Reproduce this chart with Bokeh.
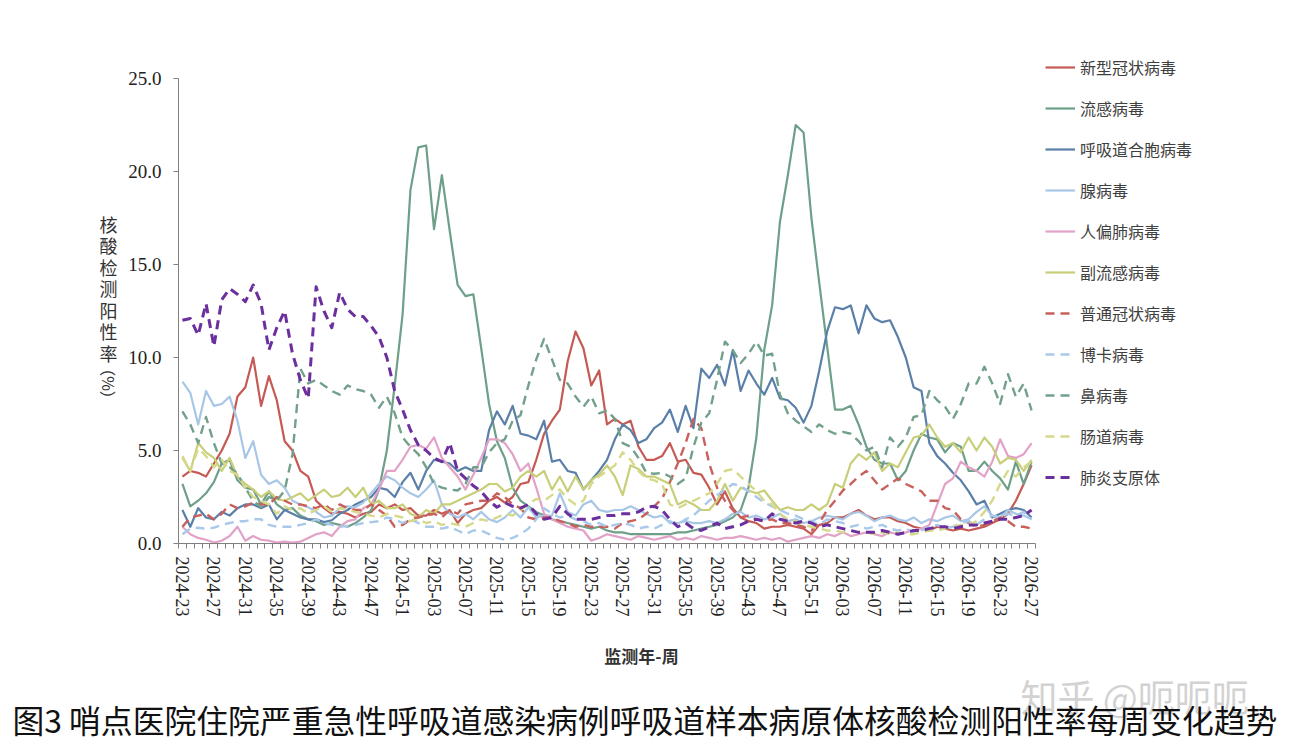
import math
from bokeh.plotting import figure
from bokeh.models import (Range1d, FixedTicker, NumeralTickFormatter, Label,
                          Legend, LegendItem, ColumnDataSource)
from bokeh.embed import file_html
from bokeh.resources import INLINE

# ---------------- categories (surveillance year-week) ----------------
weeks = ([f"2024-{w:02d}" for w in range(23, 53)] +
         [f"2025-{w:02d}" for w in range(1, 53)] +
         [f"2026-{w:02d}" for w in range(1, 28)])

tick_labels = ["2024-23", "2024-27", "2024-31", "2024-35", "2024-39", "2024-43",
               "2024-47", "2024-51", "2025-03", "2025-07", "2025-11", "2025-15",
               "2025-19", "2025-23", "2025-27", "2025-31", "2025-35", "2025-39",
               "2025-43", "2025-47", "2025-51", "2026-03", "2026-07", "2026-11",
               "2026-15", "2026-19", "2026-23", "2026-27"]

y_ticks = [0, 5, 10, 15, 20, 25]

# ---------------- series values (positivity rate, %) ----------------
covid = [3.6, 3.9, 3.8, 3.6, 4.3, 5.0, 5.9, 7.9, 8.4, 10.0,
         7.4, 9.0, 7.7, 5.5, 5.0, 3.9, 3.6, 2.3, 1.9, 1.6,
         1.7, 1.6, 1.4, 1.6, 1.7, 2.1, 1.9, 2.1, 1.8, 1.9,
         1.5, 1.5, 1.8, 1.6, 1.8, 1.1, 1.6, 1.8, 1.9, 2.3,
         2.5, 2.2, 2.5, 3.2, 3.3, 4.5, 5.9, 6.6, 7.2, 9.8,
         11.4, 10.5, 8.5, 9.3, 6.4, 6.7, 6.4, 6.6, 5.2, 4.5,
         4.5, 4.7, 5.4, 4.4, 4.5, 3.8, 3.7, 3.0, 2.1, 2.8,
         1.9, 1.4, 1.2, 1.1, 0.8, 0.9, 0.9, 1.0, 0.9, 0.8,
         0.5, 1.0, 1.1, 1.4, 1.4, 1.6, 1.8, 1.5, 1.3, 1.4,
         1.4, 1.2, 1.1, 0.9, 0.8, 0.7, 0.9, 0.8, 0.7, 0.8,
         0.7, 0.8, 0.9, 1.1, 1.3, 1.6, 2.3, 3.2, 4.2]

flu = [3.2, 2.0, 2.3, 2.7, 3.3, 4.3, 4.5, 3.4, 3.0, 2.9,
       2.1, 2.8, 2.1, 1.8, 1.9, 1.5, 1.3, 1.2, 1.0, 1.1,
       1.0, 0.9, 1.1, 1.4, 1.8, 2.9, 5.0, 8.5, 12.3, 19.0,
       21.3, 21.4, 16.9, 19.8, 16.8, 13.9, 13.3, 13.4, 10.5, 7.5,
       5.5, 4.6, 3.0, 2.3, 2.0, 1.7, 1.5, 1.3, 1.2, 1.1,
       1.0, 0.9, 0.8, 0.9, 0.7, 0.6, 0.6, 0.5, 0.5, 0.5,
       0.5, 0.5, 0.5, 0.6, 0.6, 0.7, 0.8, 0.9, 1.0, 1.2,
       1.4, 1.8, 3.0, 5.7, 10.4, 12.8, 17.3, 19.8, 22.5, 22.1,
       17.5, 14.0, 10.6, 7.2, 7.2, 7.4, 6.4, 5.2, 4.5, 4.3,
       4.3, 3.4, 3.9, 5.0, 5.9, 5.7, 5.6, 4.9, 5.4, 5.2,
       3.9, 3.9, 4.4, 3.9, 3.5, 2.9, 4.4, 3.2, 4.4]

rsv = [1.8, 0.9, 1.9, 1.4, 1.3, 1.7, 1.5, 1.9, 2.1, 2.1,
       1.9, 2.1, 1.3, 1.8, 1.6, 1.4, 1.3, 1.3, 1.15, 1.25,
       1.6, 1.8, 2.1, 2.3, 2.5, 3.0, 2.9, 2.5, 3.3, 3.8,
       2.9, 3.9, 4.5, 4.4, 4.3, 3.9, 4.1, 3.9, 3.9, 6.1,
       7.1, 6.4, 7.4, 5.9, 5.8, 5.6, 6.6, 4.4, 4.5, 3.9,
       3.8, 2.9, 3.4, 3.9, 4.5, 5.6, 6.4, 6.1, 5.4, 5.6,
       6.2, 6.5, 7.2, 6.0, 7.4, 6.2, 9.4, 8.9, 9.6, 8.5,
       10.4, 8.2, 9.3, 8.6, 8.0, 8.9, 7.8, 7.7, 7.3, 6.5,
       7.4, 9.3, 11.4, 12.7, 12.6, 12.8, 11.3, 12.8, 12.1, 11.9,
       12.0, 11.1, 10.0, 8.4, 8.2, 5.4, 4.7, 4.3, 3.8, 3.4,
       2.8, 2.1, 2.3, 1.4, 1.6, 1.8, 1.9, 1.8, 1.4]

adeno = [8.7, 8.1, 6.4, 8.2, 7.4, 7.5, 7.9, 6.6, 4.6, 5.5,
         3.7, 3.2, 3.4, 3.0, 2.3, 2.1, 1.95, 1.7, 1.4, 1.5,
         1.9, 2.0, 1.95, 2.2, 2.7, 3.2, 3.6, 3.4, 3.0, 2.7,
         2.5, 2.9, 3.4, 2.1, 1.6, 1.4, 1.6, 1.3, 1.7, 1.3,
         1.15, 1.4, 1.8, 1.4, 1.95, 1.4, 1.5, 1.5, 2.7, 1.7,
         1.5, 2.1, 2.3, 1.8, 1.7, 1.8, 1.8, 2.0, 1.8, 1.6,
         1.4, 1.5, 1.1, 1.1, 1.2, 1.1, 1.1, 1.2, 1.1, 1.3,
         1.6, 1.7, 1.4, 1.5, 1.3, 1.4, 1.6, 1.2, 1.3, 1.1,
         1.2, 1.4, 1.5, 1.4, 1.3, 1.6, 1.7, 1.5, 1.2, 1.4,
         1.5, 1.3, 1.2, 1.4, 1.1, 1.3, 1.2, 1.4, 1.5, 1.2,
         1.3, 1.7, 2.0, 1.5, 1.4, 1.8, 1.6, 1.5, 1.3]

hmpv = [0.9, 0.5, 0.3, 0.2, 0.05, 0.15, 0.4, 0.9, 0.15, 0.4,
        0.2, 0.15, 0.05, 0.1, 0.05, 0.1, 0.3, 0.5, 0.6, 0.4,
        0.9, 1.2, 1.3, 1.9, 2.1, 2.9, 3.9, 3.9, 4.5, 5.2,
        5.3, 5.1, 5.7, 4.6, 4.1, 3.6, 2.9, 3.7, 4.6, 5.6,
        5.6, 5.4, 4.8, 3.9, 4.3, 3.0, 1.6, 1.3, 1.1, 0.9,
        0.8, 0.7, 0.15, 0.3, 0.5, 0.4, 0.3, 0.2, 0.4, 0.3,
        0.2, 0.3, 0.4, 0.2, 0.3, 0.2, 0.4, 0.3, 0.2, 0.3,
        0.3, 0.4, 0.3, 0.2, 0.3, 0.2, 0.3, 0.1, 0.2, 0.3,
        0.4, 0.3, 0.5, 0.4, 0.6, 0.4, 0.5, 0.6, 0.5, 0.4,
        0.6, 0.5, 0.6, 0.7, 0.8, 1.0, 2.1, 3.2, 3.5, 4.4,
        4.1, 3.9, 3.6, 4.4, 5.6, 4.7, 4.6, 4.8, 5.4]

piv = [4.6, 3.9, 5.4, 4.9, 4.6, 3.9, 4.6, 3.6, 3.2, 2.9,
       2.5, 2.8, 2.4, 2.3, 2.5, 2.7, 2.3, 2.6, 2.9, 2.5,
       2.6, 3.0, 2.5, 3.0, 2.1, 2.3, 1.9, 1.9, 2.1, 1.6,
       1.4, 1.8, 1.6, 2.1, 2.1, 2.3, 2.5, 2.7, 2.9, 3.2,
       3.2, 2.8, 3.0, 3.6, 3.9, 3.6, 3.9, 2.9, 3.6, 2.8,
       3.6, 2.9, 3.4, 3.7, 4.2, 3.6, 2.6, 4.2, 4.0, 3.6,
       3.6, 3.4, 3.2, 2.1, 2.3, 2.1, 1.8, 1.8, 2.3, 3.2,
       2.3, 3.0, 2.85, 2.7, 2.85, 2.3, 1.8, 1.95, 1.8, 1.8,
       2.1, 1.8, 2.1, 3.2, 3.0, 4.3, 4.8, 4.5, 4.9, 3.9,
       4.3, 4.1, 4.9, 5.7, 5.8, 6.4, 5.7, 5.2, 5.4, 4.9,
       5.7, 5.0, 5.7, 5.2, 4.3, 4.6, 4.5, 3.9, 4.5]

hcov = [0.9, 1.4, 1.5, 1.6, 1.3, 1.6, 2.1, 1.9, 2.0, 2.2,
        2.1, 2.1, 2.5, 2.3, 2.1, 2.1, 2.0, 1.9, 2.1, 1.8,
        2.1, 1.9, 1.8, 1.8, 2.1, 1.8, 1.5, 0.9, 1.0, 1.3,
        1.4, 1.5, 1.6, 1.4, 1.8, 1.6, 2.1, 2.2, 2.3, 2.3,
        2.7, 2.5, 2.1, 1.9, 1.4, 1.3, 1.4, 1.4, 1.2, 1.1,
        0.9, 1.0, 0.9, 0.9, 0.9, 0.8, 1.1, 1.2, 1.3, 1.6,
        2.0, 2.4, 3.3, 4.3, 5.4, 6.7, 6.2, 4.3, 3.0, 2.3,
        1.8, 1.4, 1.5, 1.3, 1.2, 1.3, 1.1, 1.1, 1.0, 0.9,
        0.7, 1.1, 1.8, 2.3, 2.85, 3.2, 3.6, 3.9, 3.4, 2.9,
        3.2, 3.5, 3.2, 3.0, 2.8, 2.3, 2.3, 1.9, 1.8, 1.3,
        1.1, 0.9, 1.0, 1.2, 1.4, 1.2, 0.9, 0.9, 0.8]

boca = [0.5, 0.8, 0.85, 0.8, 0.85, 1.0, 1.1, 1.2, 1.2, 1.3,
        1.3, 1.0, 0.9, 0.9, 0.9, 1.0, 1.1, 1.3, 1.1, 1.0,
        0.9, 0.95, 1.0, 1.1, 1.15, 1.2, 1.4, 1.3, 1.1, 1.3,
        1.1, 0.9, 0.9, 0.8, 0.9, 0.7, 0.5, 0.7, 0.7, 0.5,
        0.3, 0.2, 0.3, 0.5, 0.8, 1.3, 1.9, 1.6, 1.4, 1.5,
        1.3, 1.2, 1.0, 1.1, 0.9, 1.0, 1.1, 1.0, 0.8, 0.9,
        0.8, 1.0, 1.2, 1.0, 1.3, 1.5, 1.9, 2.3, 2.6, 2.9,
        3.2, 3.1, 2.8, 2.5, 2.2, 2.0, 1.8, 1.6, 1.5, 1.3,
        1.2, 1.0, 1.3, 1.2, 1.1, 0.9, 1.0, 0.8, 0.9, 1.0,
        0.8, 0.7, 0.8, 0.6, 0.7, 0.9, 1.0, 0.8, 0.9, 1.1,
        1.2, 1.0, 1.3, 1.5, 1.4, 1.6, 1.5, 1.7, 1.3]

rhino = [7.1, 6.4, 5.4, 6.8, 5.4, 4.3, 4.1, 3.75, 3.0, 2.3,
         1.95, 2.5, 2.3, 2.85, 4.8, 9.4, 8.6, 8.8, 8.5, 8.2,
         8.0, 8.5, 8.3, 8.2, 8.0, 7.3, 7.9, 7.0, 5.7, 5.2,
         4.8, 4.1, 3.2, 3.0, 2.9, 2.85, 3.2, 4.1, 4.1, 4.9,
         5.4, 5.6, 6.6, 6.9, 8.5, 9.9, 11.0, 9.9, 8.8, 8.6,
         7.9, 7.35, 7.9, 7.0, 7.15, 6.7, 5.4, 5.2, 4.6, 3.8,
         3.75, 3.8, 3.6, 3.2, 3.5, 5.2, 6.5, 7.0, 8.8, 10.85,
         10.4, 9.7, 10.2, 10.85, 10.1, 10.2, 8.0, 7.0, 6.6, 6.3,
         6.0, 6.4, 6.1, 5.9, 6.0, 5.9, 5.5, 5.0, 5.2, 4.1,
         5.7, 5.2, 5.7, 6.8, 6.9, 8.2, 7.7, 7.35, 6.7, 7.5,
         8.6, 8.6, 9.5, 8.6, 7.5, 9.1, 7.9, 8.6, 7.15]

entero = [4.7, 3.9, 5.1, 4.7, 4.1, 4.5, 3.9, 3.7, 3.0, 2.5,
          2.3, 2.1, 1.6, 2.0, 1.8, 1.9, 1.6, 1.8, 2.0, 1.7,
          1.9, 1.8, 1.7, 1.6, 1.5, 1.4, 1.6, 1.5, 1.4, 1.2,
          1.3, 1.1, 1.2, 1.0, 1.1, 1.0, 0.9, 1.1, 1.3, 1.2,
          1.4, 1.6, 1.5, 1.8, 2.1, 2.4, 2.3, 2.6, 2.9, 2.4,
          2.1, 2.3, 3.2, 3.6, 3.9, 4.2, 4.9, 4.5, 3.9, 3.5,
          3.4, 3.2, 2.1, 1.9, 2.1, 2.3, 2.5, 2.7, 3.2, 3.9,
          4.0, 3.6, 3.2, 2.8, 2.3, 2.1, 1.6, 1.3, 1.2, 1.0,
          0.9, 0.8, 0.7, 0.7, 0.6, 0.7, 0.6, 0.6, 0.5, 0.6,
          0.5, 0.6, 0.5, 0.5, 0.6, 0.7, 0.7, 0.8, 0.9, 1.0,
          1.0, 1.2, 1.7, 2.3, 3.2, 3.9, 3.6, 4.1, 4.4]

mycoplasma = [12.0, 12.1, 11.2, 12.9, 10.6, 13.1, 13.7, 13.4, 13.0, 13.9,
              12.9, 10.4, 11.6, 12.5, 10.2, 8.8, 7.8, 13.8, 12.5, 11.6,
              13.5, 12.6, 12.2, 12.2, 11.7, 11.1, 10.0, 8.2, 7.2, 6.1,
              5.3, 5.0, 4.6, 4.4, 5.4, 3.9, 3.5, 3.1, 2.8, 2.3,
              1.95, 2.2, 2.0, 1.9, 2.1, 1.6, 1.3, 1.4, 2.0, 1.6,
              1.3, 1.3, 1.3, 1.4, 1.5, 1.5, 1.6, 1.6, 1.7, 1.95,
              2.0, 1.8, 1.3, 0.9, 1.1, 0.8, 0.7, 0.9, 1.1, 0.8,
              0.9, 1.0, 1.2, 1.3, 1.2, 1.6, 1.3, 1.2, 1.1, 1.2,
              1.1, 0.9, 1.0, 0.9, 0.8, 0.7, 0.6, 0.6, 0.6, 0.7,
              0.6, 0.5, 0.6, 0.7, 0.7, 0.8, 0.9, 0.9, 0.8, 0.9,
              1.0, 1.0, 1.1, 1.2, 1.3, 1.3, 1.4, 1.5, 1.8]

series_names = ["新型冠状病毒", "流感病毒", "呼吸道合胞病毒", "腺病毒", "人偏肺病毒",
                "副流感病毒", "普通冠状病毒", "博卡病毒", "鼻病毒", "肠道病毒", "肺炎支原体"]
series_values = [covid, flu, rsv, adeno, hmpv, piv, hcov, boca, rhino, entero, mycoplasma]
series_colors = ["#C55A55", "#6E9F88", "#5A7FA8", "#A8C6E6", "#E2A2C8", "#C9CE78",
                 "#C8605C", "#A9C9EA", "#72A08B", "#D6D98A", "#6B2F9E"]
series_dashed = [False, False, False, False, False, False, True, True, True, True, True]

y_title_chars = ["核", "酸", "检", "测", "阳", "性", "率"]

# ---------------- geometry (pixels on the canvas) ----------------
W, H = 1288, 752
PX_LEFT, PX_RIGHT = 178.0, 1035.0     # axis extent (category boundaries)
PX_Y0, PX_Y25 = 543.0, 78.0           # pixel rows of 0 and 25
n = len(weeks)
step = (PX_RIGHT - PX_LEFT) / n
ppu = (PX_Y0 - PX_Y25) / 25.0
x_start = -0.5 - PX_LEFT / step
x_end = n - 0.5 + (W - PX_RIGHT) / step
y_end = 25 + PX_Y25 / ppu
y_start = -(H - PX_Y0) / ppu

def sy(py):
    return H - py

p = figure(width=W, height=H, x_range=Range1d(x_start, x_end),
           y_range=Range1d(y_start, y_end), output_backend="svg",
           toolbar_location=None, min_border=0, min_border_left=0,
           min_border_right=0, min_border_top=0, min_border_bottom=0)
p.title.visible = False
p.outline_line_color = None
p.xgrid.visible = False
p.ygrid.visible = False
p.background_fill_color = "white"
p.border_fill_color = "white"

xs = list(range(n))
items = []
for name, vals, col, dashed in zip(series_names, series_values, series_colors, series_dashed):
    src = ColumnDataSource(dict(x=xs, y=vals, week=weeks))
    if dashed:
        lw = 3.0 if name == "肺炎支原体" else 2.4
        r = p.line("x", "y", source=src, line_color=col, line_width=lw,
                   line_dash="9 6", line_join="round")
    else:
        r = p.line("x", "y", source=src, line_color=col, line_width=2.2,
                   line_join="round")
    items.append(LegendItem(label=name, renderers=[r]))

# x axis (fixed at y = 0, limited to the category span)
tick_idx = [weeks.index(t) for t in tick_labels]
xa = p.xaxis[0]
xa.fixed_location = 0
xa.bounds = (-0.5, n - 0.5)
xa.ticker = FixedTicker(ticks=tick_idx, minor_ticks=[i - 0.5 for i in range(n + 1)])
xa.major_label_overrides = {i: weeks[i] for i in tick_idx}
xa.major_label_orientation = -math.pi / 2
xa.major_tick_line_color = None
xa.major_tick_out = 0
xa.major_tick_in = 0
xa.minor_tick_out = 5
xa.minor_tick_in = 0
xa.minor_tick_line_color = "#808080"
xa.axis_line_color = "#808080"
xa.major_label_standoff = 8
xa.major_label_text_font = "Liberation Serif"
xa.major_label_text_font_size = "18px"
xa.major_label_text_color = "#222222"

# y axis (fixed at the left boundary, limited to 0..25)
ya = p.yaxis[0]
ya.fixed_location = -0.5
ya.bounds = (0, 25)
ya.ticker = FixedTicker(ticks=y_ticks, minor_ticks=[])
ya.formatter = NumeralTickFormatter(format="0.0")
ya.major_tick_out = 5
ya.major_tick_in = 0
ya.major_tick_line_color = "#808080"
ya.axis_line_color = "#808080"
ya.major_label_standoff = 12
ya.major_label_text_font = "Liberation Serif"
ya.major_label_text_font_size = "19px"
ya.major_label_text_color = "#222222"

# axis titles
p.add_layout(Label(x=641, y=sy(655), x_units="screen", y_units="screen",
                   text="监测年-周", text_align="center", text_baseline="middle",
                   text_font="Noto Sans CJK SC", text_font_size="17px",
                   text_font_style="bold", text_color="#333333"))
for k, ch in enumerate(y_title_chars):
    p.add_layout(Label(x=108, y=sy(223 + 21.5 * k), x_units="screen", y_units="screen",
                       text=ch, text_align="center", text_baseline="middle",
                       text_font="Noto Sans CJK SC", text_font_size="18px",
                       text_color="#333333"))
p.add_layout(Label(x=108, y=sy(383), x_units="screen", y_units="screen",
                   text="（%）", angle=-math.pi / 2, text_align="center",
                   text_baseline="middle", text_font="Noto Sans CJK SC",
                   text_font_size="16px", text_color="#333333"))

# legend (right of the plot area); bottom-left corner given in frame pixels
legend = Legend(items=items, location=(int(PX_RIGHT) + 10, 263),
                orientation="vertical", glyph_width=30, glyph_height=20,
                label_height=20, spacing=17, padding=10, margin=0, label_standoff=5,
                label_text_font="Noto Sans CJK SC", label_text_font_size="16px",
                label_text_color="#404040", border_line_color=None,
                background_fill_alpha=0)
p.add_layout(legend)

# watermark and caption
p.add_layout(Label(x=1020, y=sy(695), x_units="screen", y_units="screen",
                   text="知乎 @呃呃呃", text_baseline="middle",
                   text_font="Noto Sans CJK SC", text_font_size="37px",
                   text_color="#c4c4c4", text_alpha=0.75))
p.add_layout(Label(x=12, y=sy(718), x_units="screen", y_units="screen",
                   text="图3 哨点医院住院严重急性呼吸道感染病例呼吸道样本病原体核酸检测阳性率每周变化趋势",
                   text_baseline="middle", text_font="Noto Sans CJK SC",
                   text_font_size="31.8px", text_color="#111111"))

open("out.html", "w").write(file_html(p, INLINE))
